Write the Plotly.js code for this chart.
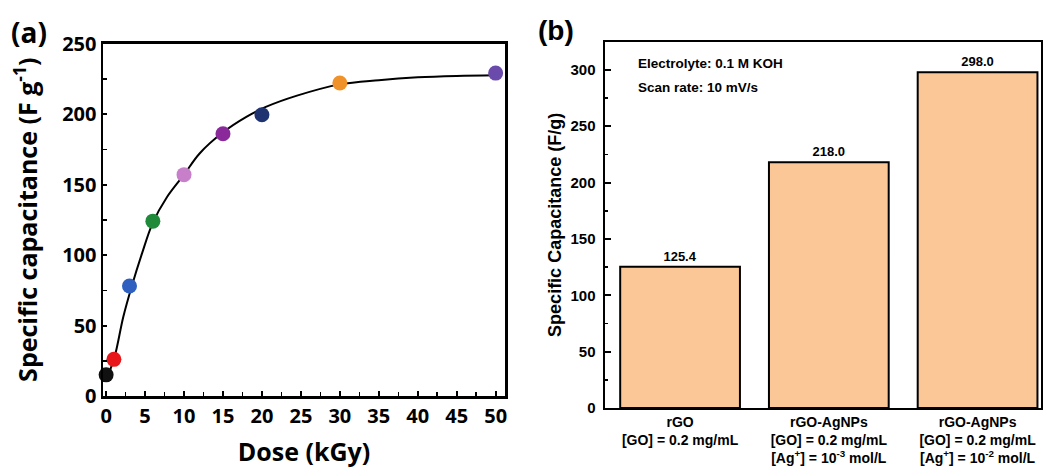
<!DOCTYPE html>
<html>
<head>
<meta charset="utf-8">
<script src="https://cdn.plot.ly/plotly-3.0.1.min.js"></script>
<style>html,body{margin:0;padding:0;background:#fff;}#chart{width:1048px;height:468px;}</style>
</head>
<body>
<div id="chart"></div>
<script>
// Panel (a): measured points
const doses = [0, 1, 3, 6, 10, 15, 20, 30, 50];
const capacitance = [15, 26, 78, 124, 157, 186, 199.5, 222, 229];
const pointColors = ['#111111', '#e8161b', '#2f5fbf', '#1f8a3a', '#c77fc9', '#8a2a9a', '#1f3370', '#f0922a', '#6a4aaa'];
// Panel (a): fitted curve
const fitDose = [0.2, 1.1, 2.2, 3.3, 4.6, 6.0, 7.8, 10, 12, 15, 18, 20.5, 24.5, 30, 35, 40, 45, 50];
const fitCap = [14, 28, 56, 78, 101, 123, 141, 157, 172, 187, 198, 205, 213, 221, 224, 226, 227, 227.5];
// Panel (b): bars
const samples = ['rGO', 'rGO-AgNPs 1e-3', 'rGO-AgNPs 1e-2'];
const sampleLabels = [
  'rGO<br>[GO] = 0.2 mg/mL',
  'rGO-AgNPs<br>[GO] = 0.2 mg/mL<br>[Ag<sup>+</sup>] = 10<sup>-3</sup> mol/L',
  'rGO-AgNPs<br>[GO] = 0.2 mg/mL<br>[Ag<sup>+</sup>] = 10<sup>-2</sup> mol/L'
];
const specCap = [125.4, 218.0, 298.0];
const xTicks = [0, 5, 10, 15, 20, 25, 30, 35, 40, 45, 50];

const W = 1048, H = 468;
const px = v => v / W, py = v => (H - v) / H;

const fontA = 'Open Sans, sans-serif';
const fontB = 'Liberation Sans, Arial, sans-serif';

const traces = [
  {
    x: fitDose, y: fitCap, type: 'scatter', mode: 'lines',
    line: {color: '#000', width: 2, shape: 'spline', smoothing: 1},
    xaxis: 'x', yaxis: 'y', hoverinfo: 'skip', cliponaxis: false
  },
  {
    x: doses, y: capacitance, type: 'scatter', mode: 'markers',
    marker: {color: pointColors, size: 15, line: {width: 0}},
    xaxis: 'x', yaxis: 'y', cliponaxis: false
  },
  {
    x: [0, 1, 2], y: specCap, type: 'bar', width: 0.805,
    marker: {color: '#fcc796', line: {color: '#000', width: 2}},
    text: specCap.map(v => v.toFixed(1)), textposition: 'outside',
    textfont: {family: fontB, size: 13, color: '#000', weight: 'bold'},
    cliponaxis: false, xaxis: 'x2', yaxis: 'y2'
  }
];

const layout = {
  width: W, height: H,
  margin: {l: 0, r: 0, t: 0, b: 0},
  paper_bgcolor: '#fff', plot_bgcolor: '#fff',
  showlegend: false,
  xaxis: {
    domain: [px(103), px(505)], range: [-0.4, 51.2],
    tickvals: xTicks, ticks: 'inside', ticklen: 5, tickwidth: 2, tickcolor: '#000',
    minor: {dtick: 2.5, tick0: 0, ticks: 'inside', ticklen: 4, tickwidth: 1.5, tickcolor: '#000'},
    showline: true, linewidth: 2.5, linecolor: '#000', mirror: true,
    showgrid: false, zeroline: false,
    tickfont: {family: fontA, size: 20, color: '#000', weight: 'bold'},
    title: {text: 'Dose (kGy)', font: {family: fontA, size: 25, color: '#000', weight: 'bold'}, standoff: 24},
    anchor: 'y', automargin: false
  },
  yaxis: {
    domain: [py(396), py(43.5)], range: [0, 250],
    dtick: 50, tick0: 0, ticks: 'inside', ticklen: 4, tickwidth: 2, tickcolor: '#000',
    minor: {dtick: 25, tick0: 0, ticks: 'inside', ticklen: 4, tickwidth: 1.5, tickcolor: '#000'},
    showline: true, linewidth: 2.5, linecolor: '#000', mirror: true,
    showgrid: false, zeroline: false,
    tickfont: {family: fontA, size: 20, color: '#000', weight: 'bold'},
    title: {text: 'Specific capacitance (F g<sup>-1</sup>)', font: {family: fontA, size: 25, color: '#000', weight: 'bold'}, standoff: 18},
    anchor: 'x', automargin: false
  },
  xaxis2: {
    domain: [px(604.5), px(1040.5)], range: [-0.508, 2.423],
    tickvals: [0, 1, 2], ticktext: sampleLabels, ticks: '',
    showline: true, linewidth: 2, linecolor: '#000', mirror: true,
    showgrid: false, zeroline: false,
    tickfont: {family: fontB, size: 14, color: '#000', weight: 'bold'},
    anchor: 'y2', automargin: false
  },
  yaxis2: {
    domain: [py(408), py(41.7)], range: [0, 325],
    dtick: 50, tick0: 0, ticks: 'inside', ticklen: 6, tickwidth: 2, tickcolor: '#000',
    minor: {dtick: 25, tick0: 0, ticks: 'inside', ticklen: 3, tickwidth: 1.5, tickcolor: '#000'},
    showline: true, linewidth: 2, linecolor: '#000', mirror: true,
    showgrid: false, zeroline: false,
    ticklabelstandoff: 4,
    tickfont: {family: fontB, size: 15, color: '#000', weight: 'bold'},
    title: {text: 'Specific Capacitance (F/g)', font: {family: fontB, size: 18, color: '#000', weight: 'bold'}, standoff: 4},
    anchor: 'x2', automargin: false
  },
  annotations: [
    {text: '(a)', xref: 'paper', yref: 'paper', x: px(29), y: py(32), xanchor: 'center', yanchor: 'middle', showarrow: false,
     font: {family: fontA, size: 28, color: '#000', weight: 'bold'}},
    {text: '(b)', xref: 'paper', yref: 'paper', x: px(556), y: py(31), xanchor: 'center', yanchor: 'middle', showarrow: false,
     font: {family: fontB, size: 28, color: '#000', weight: 'bold'}},
    {text: 'Electrolyte: 0.1 M KOH', xref: 'paper', yref: 'paper', x: px(636), y: py(63.3), xanchor: 'left', yanchor: 'middle', showarrow: false,
     font: {family: fontB, size: 13.5, color: '#000', weight: 'bold'}},
    {text: 'Scan rate: 10 mV/s', xref: 'paper', yref: 'paper', x: px(636), y: py(87.3), xanchor: 'left', yanchor: 'middle', showarrow: false,
     font: {family: fontB, size: 13.5, color: '#000', weight: 'bold'}}
  ]
};

Plotly.newPlot('chart', traces, layout, {staticPlot: true, displayModeBar: false});
</script>
</body>
</html>
